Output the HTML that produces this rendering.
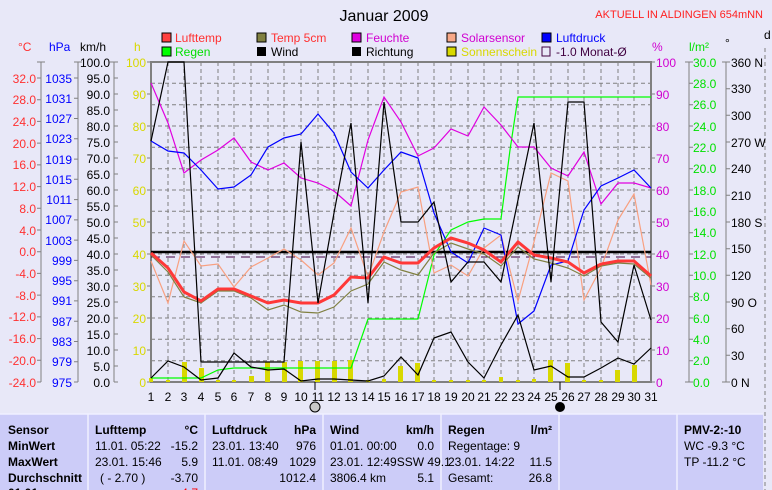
<!DOCTYPE html>
<html><head><meta charset="utf-8"><style>
body{margin:0;background:#E8E8F8;}
svg{display:block;font-family:"Liberation Sans",sans-serif;}
.t{font-size:12px}
</style></head><body>
<svg width="772" height="490" viewBox="0 0 772 490" xmlns="http://www.w3.org/2000/svg">
<rect width="772" height="490" fill="#E8E8F8"/>
<text x="384" y="21" font-size="16" text-anchor="middle" fill="#000">Januar 2009</text>
<text x="763" y="18" font-size="11" text-anchor="end" fill="#FF2020">AKTUELL IN ALDINGEN 654mNN</text>
<!-- legend -->
<g font-size="12">
<rect x="162" y="33" width="9" height="9" fill="#FF4040" stroke="#000"/><text x="175" y="42" fill="#FF3030">Lufttemp</text>
<rect x="162" y="47" width="9" height="9" fill="#00FF00" stroke="#000"/><text x="175" y="56" fill="#00E000">Regen</text>
<rect x="257" y="33" width="9" height="9" fill="#808040" stroke="#000"/><text x="271" y="42" fill="#FF3030">Temp 5cm</text>
<rect x="257" y="47" width="9" height="9" fill="#000"/><text x="271" y="56" fill="#000">Wind</text>
<rect x="352" y="33" width="9" height="9" fill="#E000E0" stroke="#000"/><text x="366" y="42" fill="#D000D0">Feuchte</text>
<rect x="352" y="47" width="9" height="9" fill="#000"/><text x="366" y="56" fill="#000">Richtung</text>
<rect x="447" y="33" width="9" height="9" fill="#F8A888" stroke="#000"/><text x="461" y="42" fill="#D000D0">Solarsensor</text>
<rect x="447" y="47" width="9" height="9" fill="#D8D800" stroke="#000"/><text x="461" y="56" fill="#D8D800">Sonnenschein</text>
<rect x="542" y="33" width="9" height="9" fill="#0000FF" stroke="#000"/><text x="556" y="42" fill="#0000FF">Luftdruck</text>
<rect x="542" y="47" width="8" height="9" fill="none" stroke="#400040"/><text x="556" y="56" fill="#400040">-1.0 Monat-Ø</text>
</g>
<!-- axis headers -->
<g font-size="12">
<text x="18" y="51" fill="#FF3030">°C</text>
<text x="49" y="51" fill="#0000FF">hPa</text>
<text x="80" y="51" fill="#000">km/h</text>
<text x="134" y="51" fill="#D8D800">h</text>
<text x="652" y="51" fill="#D000D0">%</text>
<text x="689" y="51" fill="#00E000">l/m²</text>
<text x="725" y="47" fill="#000">°</text>
<text x="764" y="39" fill="#000">d</text>
</g>
<!-- grid -->
<g stroke="#808080" stroke-dasharray="4,3" stroke-width="1">
<path d="M168 62V382M184 62V382M201 62V382M218 62V382M234 62V382M251 62V382M268 62V382M284 62V382M301 62V382M318 62V382M334 62V382M351 62V382M368 62V382M384 62V382M401 62V382M418 62V382M434 62V382M451 62V382M468 62V382M484 62V382M501 62V382M518 62V382M534 62V382M551 62V382M568 62V382M584 62V382M601 62V382M618 62V382M634 62V382"/>
<path d="M151 83.3H651M151 104.7H651M151 126H651M151 147.3H651M151 168.7H651M151 190H651M151 211.3H651M151 232.7H651M151 254H651M151 275.3H651M151 296.7H651M151 318H651M151 339.3H651M151 360.7H651"/>
<path d="M765 48V490"/>
</g>
<rect x="151" y="62" width="500" height="320" fill="none" stroke="#808080" stroke-width="2"/>
<!-- left axes -->
<g stroke="#808080" stroke-width="1">
<path d="M41 62V382M78 62V382M114 62V382"/>
<path d="M37 62h8M37 78h4M37 99.7h4M37 121.4h4M37 143.1h4M37 164.9h4M37 186.6h4M37 208.3h4M37 230h4M37 251.7h4M37 273.4h4M37 295.1h4M37 316.9h4M37 338.6h4M37 360.3h4M37 382h4"/>
<path d="M74 62h8M74 78h4M74 98.3h4M74 118.5h4M74 138.8h4M74 159.1h4M74 179.3h4M74 199.6h4M74 219.9h4M74 240.1h4M74 260.4h4M74 280.7h4M74 300.9h4M74 321.2h4M74 341.5h4M74 361.7h4M74 382h4"/>
<path d="M110 62h8M114 78h4M114 94h4M114 110h4M114 126h4M114 142h4M114 158h4M114 174h4M114 190h4M114 206h4M114 222h4M114 238h4M114 254h4M114 270h4M114 286h4M114 302h4M114 318h4M114 334h4M114 350h4M114 366h4M114 382h4"/>
<path d="M147 62h4M147 94h4M147 126h4M147 158h4M147 190h4M147 222h4M147 254h4M147 286h4M147 318h4M147 350h4M147 382h4"/>
<path d="M651 62h4M651 94h4M651 126h4M651 158h4M651 190h4M651 222h4M651 254h4M651 286h4M651 318h4M651 350h4M651 382h4"/>
<path d="M689 62V382M726 62V382"/>
<path d="M685 62h8M689 83.3h4M689 104.7h4M689 126h4M689 147.3h4M689 168.7h4M689 190h4M689 211.3h4M689 232.7h4M689 254h4M689 275.3h4M689 296.7h4M689 318h4M689 339.3h4M689 360.7h4M685 382h8"/>
<path d="M722 62h8M726 88.7h4M726 115.3h4M726 142h4M726 168.7h4M726 195.3h4M726 222h4M726 248.7h4M726 275.3h4M726 302h4M726 328.7h4M726 355.3h4M722 382h8"/>
</g>
<g font-size="12" text-anchor="end" fill="#FF3030">
<text x="36" y="83">32.0</text><text x="36" y="104">28.0</text><text x="36" y="126">24.0</text><text x="36" y="148">20.0</text><text x="36" y="169">16.0</text><text x="36" y="191">12.0</text><text x="36" y="213">8.0</text><text x="36" y="235">4.0</text><text x="36" y="256">0.0</text><text x="36" y="278">-4.0</text><text x="36" y="300">-8.0</text><text x="36" y="321">-12.0</text><text x="36" y="343">-16.0</text><text x="36" y="365">-20.0</text><text x="36" y="387">-24.0</text>
</g>
<g font-size="12" text-anchor="end" fill="#0000FF">
<text x="72" y="83">1035</text><text x="72" y="103">1031</text><text x="72" y="123">1027</text><text x="72" y="143">1023</text><text x="72" y="164">1019</text><text x="72" y="184">1015</text><text x="72" y="204">1011</text><text x="72" y="224">1007</text><text x="72" y="245">1003</text><text x="72" y="265">999</text><text x="72" y="285">995</text><text x="72" y="305">991</text><text x="72" y="326">987</text><text x="72" y="346">983</text><text x="72" y="366">979</text><text x="72" y="387">975</text>
</g>
<g font-size="12" text-anchor="end" fill="#000">
<text x="110" y="67">100.0</text><text x="110" y="83">95.0</text><text x="110" y="99">90.0</text><text x="110" y="115">85.0</text><text x="110" y="131">80.0</text><text x="110" y="147">75.0</text><text x="110" y="163">70.0</text><text x="110" y="179">65.0</text><text x="110" y="195">60.0</text><text x="110" y="211">55.0</text><text x="110" y="227">50.0</text><text x="110" y="243">45.0</text><text x="110" y="259">40.0</text><text x="110" y="275">35.0</text><text x="110" y="291">30.0</text><text x="110" y="307">25.0</text><text x="110" y="323">20.0</text><text x="110" y="339">15.0</text><text x="110" y="355">10.0</text><text x="110" y="371">5.0</text><text x="110" y="387">0.0</text>
</g>
<g font-size="12" text-anchor="end" fill="#D8D800">
<text x="146" y="67">100</text><text x="146" y="99">90</text><text x="146" y="131">80</text><text x="146" y="163">70</text><text x="146" y="195">60</text><text x="146" y="227">50</text><text x="146" y="259">40</text><text x="146" y="291">30</text><text x="146" y="323">20</text><text x="146" y="355">10</text><text x="146" y="387">0</text>
</g>
<g font-size="12" fill="#D000D0">
<text x="656" y="67">100</text><text x="656" y="99">90</text><text x="656" y="131">80</text><text x="656" y="163">70</text><text x="656" y="195">60</text><text x="656" y="227">50</text><text x="656" y="259">40</text><text x="656" y="291">30</text><text x="656" y="323">20</text><text x="656" y="355">10</text><text x="656" y="387">0</text>
</g>
<g font-size="12" fill="#00E000">
<text x="693" y="67">30.0</text><text x="693" y="88">28.0</text><text x="693" y="109">26.0</text><text x="693" y="131">24.0</text><text x="693" y="152">22.0</text><text x="693" y="173">20.0</text><text x="693" y="195">18.0</text><text x="693" y="216">16.0</text><text x="693" y="237">14.0</text><text x="693" y="259">12.0</text><text x="693" y="280">10.0</text><text x="693" y="301">8.0</text><text x="693" y="323">6.0</text><text x="693" y="344">4.0</text><text x="693" y="365">2.0</text><text x="693" y="387">0.0</text>
</g>
<g font-size="12" fill="#000">
<text x="731" y="67">360 N</text><text x="731" y="93">330</text><text x="731" y="120">300</text><text x="731" y="147">270 W</text><text x="731" y="173">240</text><text x="731" y="200">210</text><text x="731" y="227">180 S</text><text x="731" y="253">150</text><text x="731" y="280">120</text><text x="731" y="307">90  O</text><text x="731" y="333">60</text><text x="731" y="360">30</text><text x="731" y="387">0    N</text>
</g>
<!-- sunshine bars -->
<g fill="#D8D800">
<rect x="149" y="378" width="4" height="4"/><rect x="166" y="380" width="4" height="2"/><rect x="182" y="362" width="5" height="20"/><rect x="199" y="368" width="5" height="14"/><rect x="216" y="380" width="4" height="2"/><rect x="232" y="380" width="4" height="2"/><rect x="249" y="376" width="5" height="6"/><rect x="265" y="362" width="5" height="20"/><rect x="282" y="362" width="5" height="20"/><rect x="298" y="361" width="5" height="21"/><rect x="315" y="361" width="5" height="21"/><rect x="332" y="361" width="5" height="21"/><rect x="348" y="360" width="5" height="22"/><rect x="366" y="380" width="4" height="2"/><rect x="382" y="379" width="4" height="3"/><rect x="398" y="366" width="5" height="16"/><rect x="415" y="363" width="5" height="19"/><rect x="432" y="380" width="4" height="2"/><rect x="449" y="380" width="4" height="2"/><rect x="466" y="380" width="4" height="2"/><rect x="482" y="380" width="4" height="2"/><rect x="499" y="377" width="4" height="5"/><rect x="516" y="380" width="4" height="2"/><rect x="532" y="379" width="4" height="3"/><rect x="548" y="360" width="5" height="22"/><rect x="565" y="363" width="5" height="19"/><rect x="582" y="380" width="4" height="2"/><rect x="599" y="380" width="4" height="2"/><rect x="615" y="370" width="5" height="12"/><rect x="632" y="365" width="5" height="17"/>
</g>
<!-- reference lines -->
<line x1="151" y1="252" x2="651" y2="252" stroke="#000" stroke-width="2.5"/>
<line x1="151" y1="257" x2="651" y2="257" stroke="#400040" stroke-width="1" stroke-dasharray="9,6"/>
<!-- regen -->
<polyline fill="none" stroke="#00FF00" stroke-width="1.2" points="151,378 168,378 184,378 201,378 218,370 234,368 251,368 268,368 284,368 301,368 318,368 334,368 351,368 368,319 384,319 401,319 418,319 434,255 451,230 468,222 484,219 501,219 510,150 518,97 534,97 551,97 568,97 584,97 601,97 618,97 634,97 651,97"/>
<!-- solar -->
<polyline fill="none" stroke="#F8A080" stroke-width="1.2" points="151,261 168,303 184,241 201,266 218,264 234,287 251,267 268,258 284,249 301,260 318,275 334,263 351,228 368,277 384,232 401,192 418,187 434,273 451,265 468,276 484,248 501,235 518,301 534,242 551,173 568,181 584,300 601,268 618,220 634,194 651,285"/>
<!-- feuchte -->
<polyline fill="none" stroke="#E000E0" stroke-width="1.2" points="151,83 168,123 184,173 201,160 218,150 234,138 251,162 268,170 284,163 301,178 318,183 334,191 351,206 368,140 384,97 401,122 418,156 434,148 451,129 468,136 484,107 501,125 518,147 534,147 551,168 568,176 584,152 601,204 618,183 634,183 651,188"/>
<!-- luftdruck -->
<polyline fill="none" stroke="#0000FF" stroke-width="1.2" points="151,141 168,151 184,153 201,170 218,189 234,187 251,175 268,147 284,138 301,134 318,114 334,133 351,172 368,188 384,170 401,152 418,158 434,213 451,252 468,263 484,228 501,235 518,324 534,311 551,265 568,261 584,210 601,186 618,178 634,170 651,188"/>
<!-- temp 5cm -->
<polyline fill="none" stroke="#808040" stroke-width="1.2" points="151,255 168,272 184,297 201,303 218,291 234,291 251,298 268,310 284,305 301,312 318,313 334,307 351,291 368,284 384,262 401,270 418,275 434,253 451,243 468,249 484,254 501,266 518,247 534,259 551,263 568,268 584,276 601,266 618,263 634,264 651,278"/>
<!-- lufttemp -->
<polyline fill="none" stroke="#FF3838" stroke-width="3" points="151,253 168,268 184,292 201,301 218,289 234,289 251,296 268,303 284,300 301,303 318,303 334,295 351,277 368,278 384,257 401,263 418,263 434,248 451,238 468,243 484,250 501,262 518,242 534,255 551,258 568,262 584,273 601,264 618,261 634,261 651,276"/>
<!-- wind direction -->
<polyline fill="none" stroke="#000" stroke-width="1.2" points="151,141 168,62 184,62 201,362 218,362 234,362 251,362 268,362 284,362 301,142 318,303 334,213 351,123 368,303 384,102 401,222 418,222 434,202 451,282 468,262 484,262 501,282 518,200 534,123 551,282 568,102 584,102 601,322 618,342 634,265 651,320"/>
<!-- wind speed -->
<polyline fill="none" stroke="#000" stroke-width="1.2" points="151,378 168,361 184,367 201,380 218,378 234,353 251,367 268,370 284,369 301,381 318,379 334,379 351,380 368,381 384,376 401,357 418,375 434,338 451,332 468,362 484,378 501,345 518,315 534,370 551,366 568,377 584,377 601,368 618,358 634,364 651,348"/>
<!-- day labels -->
<g font-size="12" text-anchor="middle" fill="#000">
<text x="151" y="401">1</text><text x="168" y="401">2</text><text x="184" y="401">3</text><text x="201" y="401">4</text><text x="218" y="401">5</text><text x="234" y="401">6</text><text x="251" y="401">7</text><text x="268" y="401">8</text><text x="284" y="401">9</text><text x="301" y="401">10</text><text x="318" y="401">11</text><text x="334" y="401">12</text><text x="351" y="401">13</text><text x="368" y="401">14</text><text x="384" y="401">15</text><text x="401" y="401">16</text><text x="418" y="401">17</text><text x="434" y="401">18</text><text x="451" y="401">19</text><text x="468" y="401">20</text><text x="484" y="401">21</text><text x="501" y="401">22</text><text x="518" y="401">23</text><text x="534" y="401">24</text><text x="551" y="401">25</text><text x="568" y="401">26</text><text x="584" y="401">27</text><text x="601" y="401">28</text><text x="618" y="401">29</text><text x="634" y="401">30</text><text x="651" y="401">31</text>
</g>
<line x1="315" y1="382" x2="315" y2="390" stroke="#000"/>
<line x1="560" y1="382" x2="560" y2="390" stroke="#000"/>
<circle cx="315" cy="407" r="5" fill="#C8C8C8" stroke="#000"/>
<circle cx="560" cy="407" r="5" fill="#000"/>
<!-- table -->
<rect x="0" y="414" width="763" height="76" fill="#CCCCF8"/>
<g stroke="#F0F0FF" stroke-width="1.5">
<line x1="0" y1="414" x2="763" y2="414"/>
<line x1="88" y1="414" x2="88" y2="490"/><line x1="205" y1="414" x2="205" y2="490"/><line x1="323" y1="414" x2="323" y2="490"/><line x1="441" y1="414" x2="441" y2="490"/><line x1="559" y1="414" x2="559" y2="490"/><line x1="677" y1="414" x2="677" y2="490"/>
</g>
<g font-size="12" fill="#000">
<g font-weight="bold">
<text x="8" y="434">Sensor</text><text x="8" y="450">MinWert</text><text x="8" y="466">MaxWert</text><text x="8" y="482">Durchschnitt</text>
<text x="95" y="434">Lufttemp</text><text x="198" y="434" text-anchor="end">°C</text>
<text x="212" y="434">Luftdruck</text><text x="316" y="434" text-anchor="end">hPa</text>
<text x="330" y="434">Wind</text><text x="434" y="434" text-anchor="end">km/h</text>
<text x="448" y="434">Regen</text><text x="552" y="434" text-anchor="end">l/m²</text>
<text x="684" y="434">PMV-2:-10</text>
</g>
<text x="95" y="450">11.01.  05:22</text><text x="198" y="450" text-anchor="end">-15.2</text>
<text x="95" y="466">23.01.  15:46</text><text x="198" y="466" text-anchor="end">5.9</text>
<text x="100" y="482">( - 2.70 )</text><text x="198" y="482" text-anchor="end">-3.70</text>
<text x="212" y="450">23.01.  13:40</text><text x="316" y="450" text-anchor="end">976</text>
<text x="212" y="466">11.01.  08:49</text><text x="316" y="466" text-anchor="end">1029</text>
<text x="316" y="482" text-anchor="end">1012.4</text>
<text x="330" y="450">01.01.  00:00</text><text x="434" y="450" text-anchor="end">0.0</text>
<text x="330" y="466">23.01.  12:49SSW 49.1</text>
<text x="330" y="482">3806.4 km</text><text x="434" y="482" text-anchor="end">5.1</text>
<text x="448" y="450">Regentage: 9</text>
<text x="448" y="466">23.01.  14:22</text><text x="552" y="466" text-anchor="end">11.5</text>
<text x="448" y="482">Gesamt:</text><text x="552" y="482" text-anchor="end">26.8</text>
<text x="684" y="450">WC -9.3 °C</text>
<text x="684" y="466">TP -11.2 °C</text>
<text x="8" y="497" font-weight="bold">01.01.</text><text x="198" y="497" text-anchor="end" fill="#FF0000">-4.7</text>
</g>
</svg>
</body></html>
